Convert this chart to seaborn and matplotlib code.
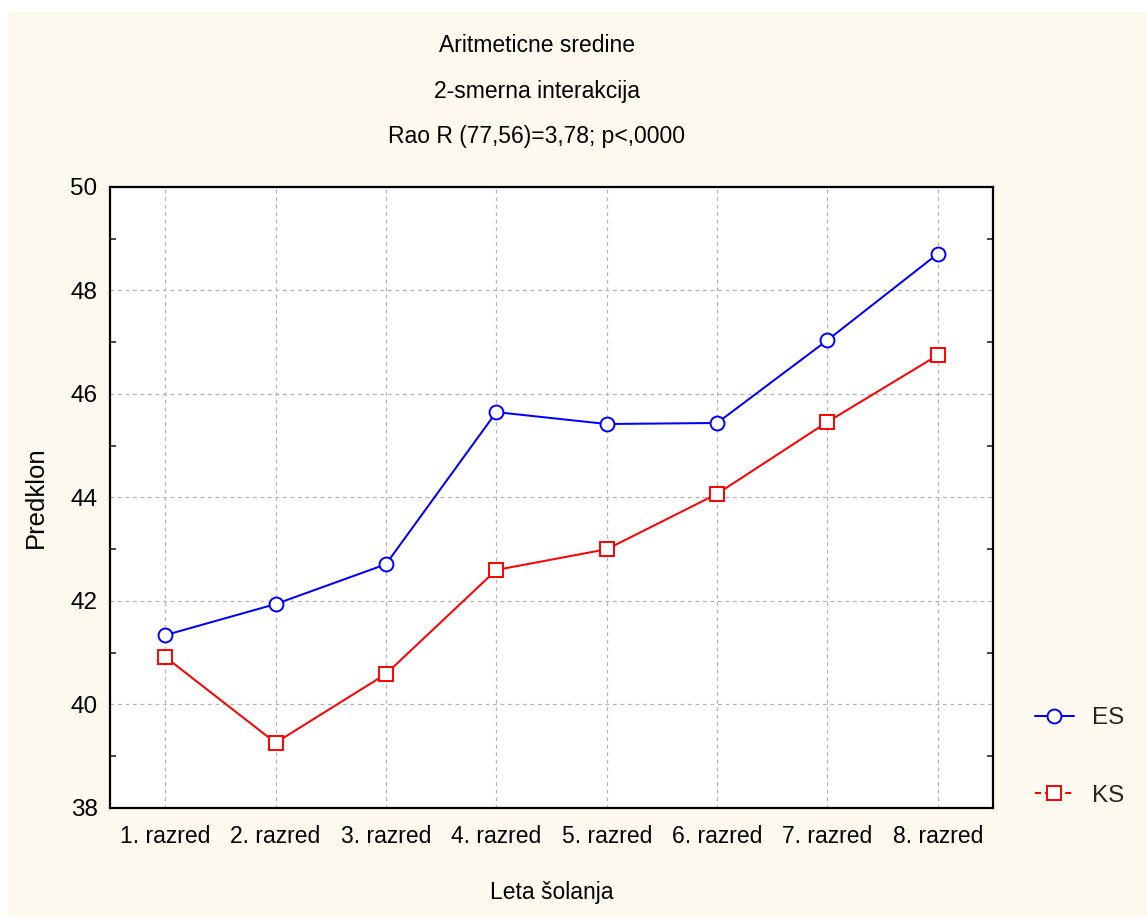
import matplotlib
matplotlib.use("Agg")
import matplotlib.pyplot as plt
import seaborn as sns
import pandas as pd
from matplotlib.lines import Line2D
from matplotlib.patches import Rectangle
from matplotlib.ticker import MultipleLocator

categories = ["1. razred", "2. razred", "3. razred", "4. razred",
              "5. razred", "6. razred", "7. razred", "8. razred"]
es_values = [41.34, 41.94, 42.71, 45.65, 45.42, 45.44, 47.04, 48.71]
ks_values = [40.92, 39.26, 40.59, 42.60, 43.00, 44.07, 45.46, 46.75]
series_names = ["ES", "KS"]
title_lines = ["Aritmeticne sredine", "2-smerna interakcija", "Rao R (77,56)=3,78; p<,0000"]

df = pd.DataFrame({
    "razred": categories * 2,
    "value": es_values + ks_values,
    "group": [series_names[0]] * len(categories) + [series_names[1]] * len(categories),
})

sns.set_theme(style="white")
plt.rcParams["font.family"] = ["Liberation Sans Narrow", "Liberation Sans", "DejaVu Sans"]

FS = 16.5
cream = "#fdf9ee"
fig = plt.figure(figsize=(11.47, 9.17), dpi=100)
fig.patch.set_facecolor("white")
fig.patches.append(Rectangle((8 / 1147, 0), 1 - 8 / 1147, 1 - 12 / 917,
                             transform=fig.transFigure, facecolor=cream,
                             edgecolor="none", zorder=-10))

ax = fig.add_axes([110 / 1147, 1 - 808 / 917, (993 - 110) / 1147, (808 - 187) / 917])
ax.set_facecolor("white")

colors = {"ES": "#0000ff", "KS": "#ff0000"}
markers = {"ES": "o", "KS": "s"}
for name in series_names:
    sub = df[df["group"] == name]
    sns.lineplot(data=sub, x="razred", y="value", color=colors[name],
                 marker=markers[name], markersize=10 if name == "ES" else 9.5,
                 markerfacecolor="white", markeredgecolor=colors[name],
                 markeredgewidth=1.4, linewidth=1.45, ax=ax, sort=False,
                 legend=False, zorder=3)

ax.set_xlim(-0.5, len(categories) - 0.5)
ax.set_ylim(38, 50)
ax.yaxis.set_major_locator(MultipleLocator(2))
ax.yaxis.set_minor_locator(MultipleLocator(1))
ax.grid(True, which="major", color="#b4b4b4", linestyle=(0, (3, 3)), linewidth=0.9)

for s in ax.spines.values():
    s.set_color("black")
    s.set_linewidth(1.6)

ax.tick_params(axis="y", which="major", direction="out", length=5, width=1.2,
               labelsize=FS + 1, colors="black", pad=4)
ax.tick_params(axis="y", which="minor", direction="in", length=4, width=1.2,
               left=True, right=True)
ax.tick_params(axis="x", which="major", direction="in", length=5, width=1.2,
               labelsize=FS, colors="black", pad=12)
ax.set_xlabel("Leta šolanja", fontsize=FS, labelpad=24, color="black")
ax.set_ylabel("Predklon", fontsize=FS + 2, labelpad=16, color="black")

for i, line in enumerate(title_lines):
    fig.text(537 / 1147, 1 - (46 + i * 45.5) / 917, line, ha="center", va="center",
             fontsize=FS, color="black")

handles = [
    Line2D([0], [0], color="#0000ff", marker="o", markerfacecolor="white",
           markersize=10, markeredgewidth=1.4, linewidth=1.45),
    Line2D([0], [0], color="#ff0000", marker="s", markerfacecolor="white",
           markersize=9.5, markeredgewidth=1.4, linewidth=1.45, linestyle=(0, (3, 2))),
]
fig.legend(handles, series_names, loc="upper left",
           bbox_to_anchor=(1035 / 1147, 1 - 707 / 917), frameon=False,
           fontsize=FS + 1, handlelength=1.6, labelspacing=2.3, handletextpad=0.75,
           borderpad=0, borderaxespad=0)

fig.savefig("out.png", dpi=100, facecolor=fig.get_facecolor())
